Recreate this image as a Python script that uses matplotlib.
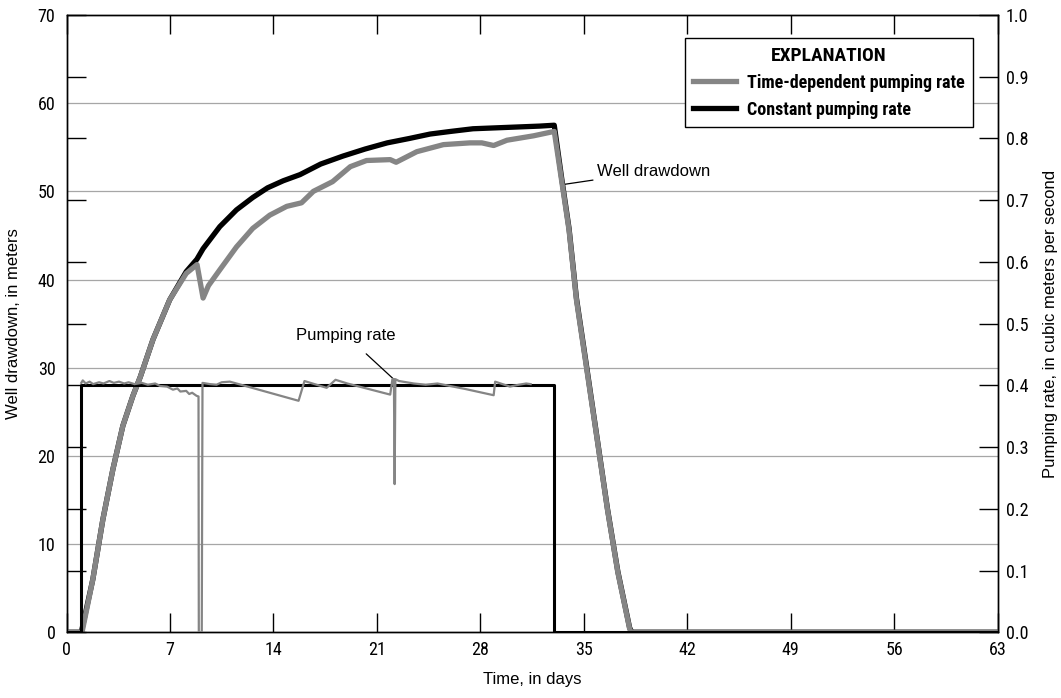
import matplotlib
matplotlib.use("Agg")
import matplotlib.pyplot as plt
from matplotlib.lines import Line2D

# drawdown, constant pumping rate (meters)
days_dd_const = [0, 1.0, 1.78, 2.46, 3.14, 3.81, 4.49, 5.0, 5.85, 6.98, 8.1, 8.82, 9.24,
                 10.37, 11.5, 12.6, 13.6, 14.66, 15.8, 17.2, 18.7, 20.2, 21.7, 23.2, 24.6,
                 26.0, 27.5, 29.0, 30.5, 32.0, 33.0,
                 33.5, 34.0, 34.5, 35.2, 35.9, 36.6, 37.3, 38.1, 38.25, 63]
dd_const = [0, 0, 6.0, 12.8, 18.5, 23.4, 26.8, 29.0, 33.2, 37.7, 40.9, 42.3, 43.5,
            46.0, 47.9, 49.3, 50.4, 51.2, 51.9, 53.1, 54.0, 54.8, 55.5, 56.0, 56.5,
            56.8, 57.1, 57.2, 57.3, 57.4, 57.5,
            51.5, 45.8, 37.9, 30.0, 22.0, 14.0, 6.9, 0.5, 0, 0]

# drawdown, time-dependent pumping rate (meters)
days_dd_var = [0, 1.05, 1.78, 2.46, 3.14, 3.81, 4.49, 5.0, 5.85, 6.98, 8.1, 8.83, 9.24,
               9.6, 10.37, 11.5, 12.6, 13.75, 14.9, 15.9, 16.7, 18.0, 19.2, 20.3, 21.9,
               22.3, 23.7, 25.5, 27.3, 28.1, 28.9, 29.8, 31.6, 33.0, 33.5, 34.0, 34.5,
               35.2, 35.9, 36.6, 37.3, 38.1, 38.2, 63]
dd_var = [0, 0, 6.0, 12.8, 18.5, 23.4, 26.8, 29.0, 33.2, 37.7, 40.7, 41.7, 37.9,
          39.3, 41.1, 43.7, 45.8, 47.3, 48.3, 48.7, 50.0, 51.1, 52.8, 53.5, 53.6,
          53.3, 54.5, 55.3, 55.5, 55.5, 55.2, 55.8, 56.3, 56.8, 51.2, 45.6, 37.7,
          29.8, 21.9, 13.9, 6.8, 0.4, 0, 0]

# constant pumping rate (m3/s)
days_q_const = [0, 1.0, 1.0, 33.0, 33.0, 63]
q_const = [0, 0, 0.4, 0.4, 0, 0]

# time-dependent pumping rate (m3/s)
days_q_var = [1.0, 1.1, 1.3, 1.56, 1.8, 2.2, 2.5, 2.9, 3.2, 3.55, 3.9, 4.2, 4.6, 5.1,
              5.5, 6.0, 6.33, 6.8, 7.2, 7.5, 7.7, 8.1, 8.3, 8.5, 8.8, 8.93, 8.95, 9.15,
              9.2, 9.7, 10.15, 10.5, 11.05, 15.7, 16.1, 17.6, 18.2, 19.0, 21.9, 22.05,
              22.15, 22.2, 22.25, 22.5, 23.5, 24.3, 25.1, 27.0, 28.9, 29.0, 30.0, 30.6,
              31.1, 31.4]
q_var = [0.404, 0.408, 0.403, 0.406, 0.402, 0.405, 0.403, 0.407, 0.404, 0.406, 0.403,
         0.405, 0.402, 0.404, 0.401, 0.403, 0.399, 0.398, 0.393, 0.395, 0.390, 0.391,
         0.386, 0.388, 0.383, 0.382, 0.0, 0.0, 0.404, 0.402, 0.401, 0.405, 0.406,
         0.375, 0.407, 0.396, 0.409, 0.403, 0.385, 0.41, 0.41, 0.24, 0.41, 0.407,
         0.403, 0.401, 0.403, 0.394, 0.384, 0.406, 0.398, 0.401, 0.403, 0.402]

x_ticks = [0, 7, 14, 21, 28, 35, 42, 49, 56, 63]
dd_ticks = [0, 10, 20, 30, 40, 50, 60, 70]
q_ticks = [0.0, 0.1, 0.2, 0.3, 0.4, 0.5, 0.6, 0.7, 0.8, 0.9, 1.0]

GRAY = "#858585"
NARROW = ["Liberation Sans Narrow", "Roboto Condensed", "DejaVu Sans"]
plt.rcParams["font.family"] = ["Liberation Sans", "DejaVu Sans"]

fig = plt.figure(figsize=(10.61, 6.98), dpi=100)
ax = fig.add_axes([0.0627, 0.0942, 0.8776, 0.8843])
ax2 = ax.twinx()

# left axis: drawdown
ax.plot(days_dd_const, dd_const, color="black", lw=3.8, zorder=3, solid_joinstyle="round")
ax.plot(days_dd_var, dd_var, color=GRAY, lw=3.8, zorder=4, solid_joinstyle="round")
ax.set_xlim(0, 63)
ax.set_ylim(0, 70)
ax.set_xticks(x_ticks)
ax.set_yticks(dd_ticks)
for v in dd_ticks[1:-1]:
    ax.axhline(v, color="#a6a6a6", lw=0.9, zorder=0)
ax.tick_params(axis="x", direction="in", length=14, width=1, top=True, bottom=True, pad=6)
ax.tick_params(axis="y", length=0, pad=8)
for lbl in ax.get_xticklabels() + ax.get_yticklabels():
    lbl.set_family(NARROW)
    lbl.set_stretch("condensed")
    lbl.set_fontsize(13)
ax.set_xlabel("Time, in days", fontsize=12, labelpad=10)
ax.set_ylabel("Well drawdown, in meters", fontsize=12, labelpad=12)

# right axis: pumping rate
ax2.plot(days_q_const, q_const, color="black", lw=2.2, zorder=2)
ax2.plot(days_q_var, q_var, color=GRAY, lw=1.6, zorder=3)
ax2.set_ylim(0, 1.0)
ax2.set_yticks(q_ticks)
ax2.set_yticklabels([f"{v:.1f}" for v in q_ticks])
ax2.tick_params(axis="y", direction="in", length=14, width=1, left=True, right=True, pad=6)
for lbl in ax2.get_yticklabels():
    lbl.set_family(NARROW)
    lbl.set_stretch("condensed")
    lbl.set_fontsize(13)
ax2.set_ylabel("Pumping rate, in cubic meters per second", fontsize=12, labelpad=10)

for a in (ax, ax2):
    for sp in a.spines.values():
        sp.set_linewidth(1.0)
        sp.set_color("black")

# annotations
ax.annotate("Pumping rate", xy=(22.2, 28.6), xytext=(18.9, 33.7), fontsize=12,
            ha="center", va="center",
            arrowprops=dict(arrowstyle="-", color="black", lw=0.9, shrinkA=9, shrinkB=0))
ax.annotate("Well drawdown", xy=(33.7, 50.8), xytext=(35.9, 52.3), fontsize=12,
            ha="left", va="center",
            arrowprops=dict(arrowstyle="-", color="black", lw=0.9, shrinkA=1, shrinkB=0))

# legend
handles = [Line2D([], [], color=GRAY, lw=3.8), Line2D([], [], color="black", lw=3.8)]
leg = ax2.legend(handles, ["Time-dependent pumping rate", "Constant pumping rate"],
                 title="EXPLANATION", loc="upper right", bbox_to_anchor=(0.9734, 0.962),
                 borderaxespad=0, fancybox=False, framealpha=1, edgecolor="black",
                 handlelength=2.4, borderpad=0.45, labelspacing=0.5, handletextpad=0.6,
                 prop={"family": NARROW, "weight": "bold", "size": 13, "stretch": "condensed"},
                 title_fontproperties={"family": NARROW, "weight": "bold", "size": 14,
                                       "stretch": "condensed"})
leg.get_frame().set_linewidth(1.0)

fig.savefig("out.png", dpi=100)
